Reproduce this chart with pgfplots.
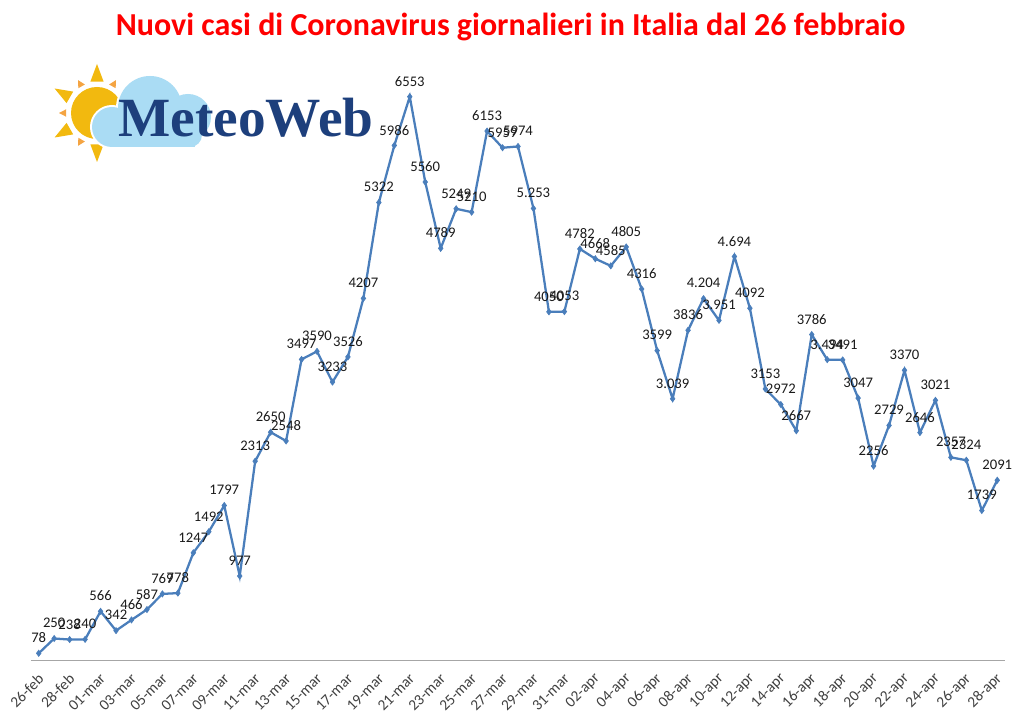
\documentclass[border=0pt]{standalone}
\usepackage{pgfplots}
\pgfplotsset{compat=1.18}
\usepackage{pgfplotstable}
\usepackage{fontspec}
\setmainfont{Carlito}
\newfontfamily\logofont{Liberation Serif}
\definecolor{linecol}{HTML}{4A7EBB}
\definecolor{axisgray}{HTML}{A6A6A6}
\definecolor{ticktext}{HTML}{404040}
\definecolor{labeltext}{HTML}{1A1A1A}
\definecolor{sunyel}{HTML}{F2B90F}
\definecolor{sunora}{HTML}{F4A442}
\definecolor{cloudblue}{HTML}{AADCF4}
\definecolor{logoblue}{HTML}{1D3F7C}
\definecolor{titlered}{HTML}{FF0000}

\pgfplotstableread{
x y label
0 78 78
1 250 250
2 238 238
3 240 240
4 566 566
5 342 342
6 466 466
7 587 587
8 769 769
9 778 778
10 1247 1247
11 1492 1492
12 1797 1797
13 977 977
14 2313 2313
15 2650 2650
16 2548 2548
17 3497 3497
18 3590 3590
19 3233 3233
20 3526 3526
21 4207 4207
22 5322 5322
23 5986 5986
24 6553 6553
25 5560 5560
26 4789 4789
27 5249 5249
28 5210 5210
29 6153 6153
30 5959 5959
31 5974 5974
32 5253 5.253
33 4050 4050
34 4053 4053
35 4782 4782
36 4668 4668
37 4585 4585
38 4805 4805
39 4316 4316
40 3599 3599
41 3039 3.039
42 3836 3836
43 4204 4.204
44 3951 3.951
45 4694 4.694
46 4092 4092
47 3153 3153
48 2972 2972
49 2667 2667
50 3786 3786
51 3494 3.494
52 3491 3491
53 3047 3047
54 2256 2256
55 2729 2729
56 3370 3370
57 2646 2646
58 3021 3021
59 2357 2357
60 2324 2324
61 1739 1739
62 2091 2091
}\casi

\begin{document}
\begin{tikzpicture}
\path[use as bounding box] (-23.25pt,-45.75pt) rectangle (744.75pt,495pt);

% logo (units: px, origin at sun centre)
\begin{scope}[shift={(49.5pt,410.25pt)}, x=0.75pt, y=0.75pt]
  \foreach \a in {90,150,210,270} {
    \fill[sunyel] (\a-12:32) -- (\a:49) -- (\a+12:32) -- cycle;
  }
  \foreach \a in {60,120,180,240} {
    \fill[sunora] (\a-7:31) -- (\a:38) -- (\a+7:31) -- cycle;
  }
  \fill[white] (0,0) circle (29);
  \fill[sunyel] (0,0) circle (26);
  % cloud outline
  \begin{scope}[draw=white, line width=3pt]
    \draw (53,5) circle (32);
    \draw (15,-14) circle (20);
    \draw (91,-4) circle (23);
    \draw (93,-22) circle (12);
    \draw (15,-12) rectangle (98,-34);
  \end{scope}
  \begin{scope}[fill=cloudblue]
    \fill (53,5) circle (32);
    \fill (15,-14) circle (20);
    \fill (91,-4) circle (23);
    \fill (93,-22) circle (12);
    \fill (15,-12) rectangle (98,-34);
  \end{scope}
  \node[anchor=base west, inner sep=0pt, text=logoblue, font=\logofont\bfseries\fontsize{41.5}{41.5}\selectfont]
    at (21,-24) {MeteoWeb};
\end{scope}

\node[font=\fontsize{24}{24}\selectfont\bfseries, text=titlered, inner sep=0pt]
  at (359.6pt,475pt) {Nuovi casi di Coronavirus giornalieri in Italia dal 26 febbraio};

\begin{axis}[
  at={(0pt,0pt)}, anchor=south west,
  scale only axis,
  width=730.5pt, height=451.3pt,
  xmin=-0.5, xmax=62.5, ymin=0, ymax=7000,
  axis x line*=bottom, axis y line=none,
  x axis line style={draw=axisgray, line width=0.75pt},
  major tick length=0pt,
  xtick={0,2,...,62},
  xticklabels={26-feb,28-feb,01-mar,03-mar,05-mar,07-mar,09-mar,11-mar,13-mar,15-mar,17-mar,19-mar,21-mar,23-mar,25-mar,27-mar,29-mar,31-mar,02-apr,04-apr,06-apr,08-apr,10-apr,12-apr,14-apr,16-apr,18-apr,20-apr,22-apr,24-apr,26-apr,28-apr},
  xticklabel style={font=\fontsize{11.5}{11.5}\selectfont, text=ticktext, yshift=-11.5pt, xshift=2.5pt, rotate=45, anchor=east, inner sep=1pt},
  ytick=\empty,
  clip=false,
  nodes near coords,
  point meta=explicit symbolic,
  every node near coord/.append style={font=\fontsize{11}{11}\selectfont, text=labeltext, anchor=center, yshift=11.5pt},
]
\addplot[linecol, line width=1.7pt, mark=diamond*, mark size=2.3pt,
  mark options={fill=linecol, draw=linecol, line width=0.5pt}]
  table[x=x, y=y, meta=label] {\casi};
\end{axis}
\end{tikzpicture}
\end{document}
